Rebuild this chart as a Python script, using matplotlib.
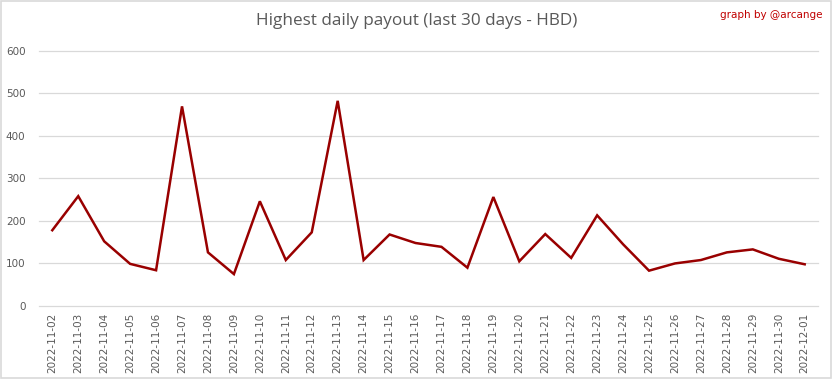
import matplotlib
matplotlib.use('Agg')
import matplotlib.pyplot as plt
from matplotlib.patches import Rectangle

dates = ['2022-11-02', '2022-11-03', '2022-11-04', '2022-11-05', '2022-11-06',
         '2022-11-07', '2022-11-08', '2022-11-09', '2022-11-10', '2022-11-11',
         '2022-11-12', '2022-11-13', '2022-11-14', '2022-11-15', '2022-11-16',
         '2022-11-17', '2022-11-18', '2022-11-19', '2022-11-20', '2022-11-21',
         '2022-11-22', '2022-11-23', '2022-11-24', '2022-11-25', '2022-11-26',
         '2022-11-27', '2022-11-28', '2022-11-29', '2022-11-30', '2022-12-01']
payout = [178, 258, 152, 99, 84, 469, 126, 75, 246, 108,
          173, 482, 108, 168, 148, 139, 90, 256, 105, 169,
          113, 213, 145, 83, 100, 108, 126, 133, 111, 98]
yticks = [0, 100, 200, 300, 400, 500, 600]

fig = plt.figure(figsize=(8.33, 3.79), dpi=100)
ax = fig.add_axes([0.0472, 0.1926, 0.9344, 0.6739])

ax.plot(range(len(dates)), payout, color='#990000', lw=1.8, solid_joinstyle='miter')

ax.set_xlim(-0.5, len(dates) - 0.5)
ax.set_ylim(0, 600)
ax.set_yticks(yticks)
ax.set_xticks(range(len(dates)))
ax.set_xticklabels(dates, rotation=90)
ax.tick_params(axis='both', length=0, colors='#595959', labelsize=7.5)
ax.tick_params(axis='y', pad=10)
ax.tick_params(axis='x', pad=5)
ax.grid(axis='y', color='#d9d9d9', lw=0.9)
for gl in ax.get_ygridlines():
    gl.set_clip_on(False)
ax.set_axisbelow(True)
for s in ax.spines.values():
    s.set_visible(False)

fig.text(0.5, 0.945, 'Highest daily payout (last 30 days - HBD)', ha='center', va='center',
         fontsize=12.3, color='#595959', family='Open Sans')
fig.text(0.987, 0.96, 'graph by @arcange', ha='right', va='center',
         fontsize=7.5, color='#c00000')

fig.patches.append(Rectangle((0.001, 0.002), 0.997, 0.995, transform=fig.transFigure,
                             fill=False, edgecolor='#d9d9d9', lw=1.2))

fig.savefig('out.png', dpi=100)
